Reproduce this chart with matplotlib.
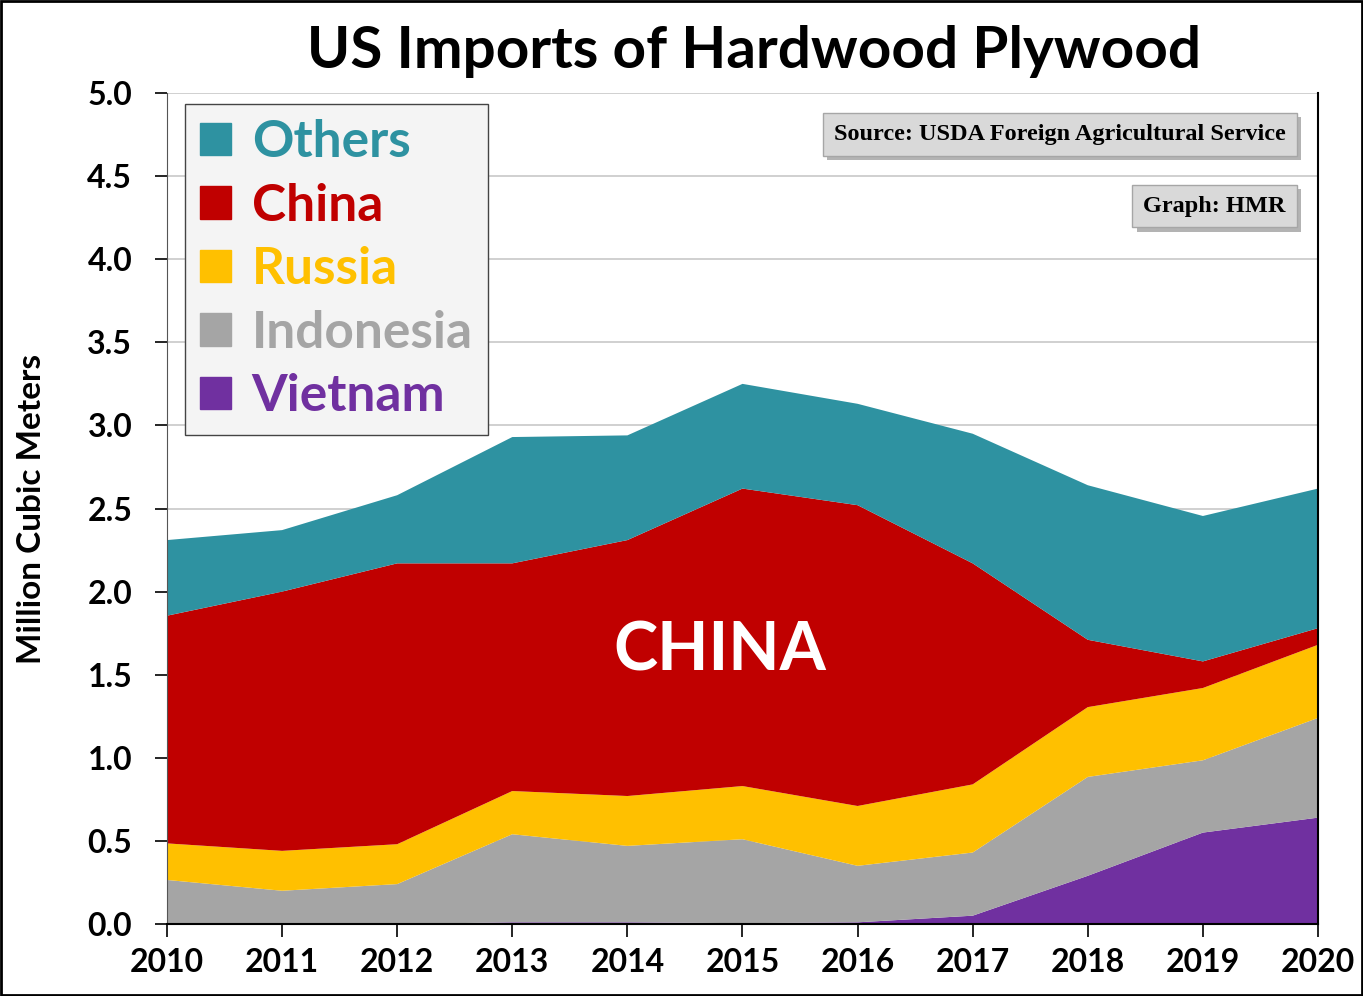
# US Imports of Hardwood Plywood - grafico de areas apiladas

import numpy as np
import matplotlib
matplotlib.use('Agg')
import matplotlib.pyplot as plt
import matplotlib.patheffects as pe
from matplotlib.patches import Patch, Rectangle

plt.rcParams['font.family'] = ['Lato', 'DejaVu Sans']

# Datos (millones de m3)
years = [2010, 2011, 2012, 2013, 2014, 2015, 2016, 2017, 2018, 2019, 2020]
vietnam = [0.0, 0.0, 0.0, 0.01, 0.01, 0.005, 0.01, 0.05, 0.29, 0.55, 0.64]
indonesia = [0.265, 0.20, 0.24, 0.53, 0.46, 0.505, 0.34, 0.38, 0.595, 0.435, 0.60]
russia = [0.22, 0.24, 0.24, 0.26, 0.30, 0.32, 0.36, 0.41, 0.42, 0.435, 0.44]
china = [1.37, 1.56, 1.69, 1.37, 1.54, 1.79, 1.81, 1.33, 0.405, 0.16, 0.10]
others = [0.455, 0.37, 0.41, 0.76, 0.63, 0.63, 0.61, 0.78, 0.93, 0.875, 0.84]

labels = ['Vietnam', 'Indonesia', 'Russia', 'China', 'Others']
colors = ['#7030A0', '#A5A5A5', '#FFC000', '#C00000', '#2E92A1']

fig = plt.figure(figsize=(13.63, 9.96), dpi=100)
ax = fig.add_axes([0.1225, 0.0723, 0.8445, 0.8343])

ax.stackplot(years, vietnam, indonesia, russia, china, others,
             colors=colors, linewidth=0, zorder=2)

# Ejes
ax.set_xlim(2010, 2020)
ax.set_ylim(0, 5)
ax.set_xticks(years)
ax.set_yticks(np.arange(0, 5.01, 0.5))
ax.set_yticklabels(['%.1f' % v for v in np.arange(0, 5.01, 0.5)])
ax.yaxis.grid(True, color='#C8C8C8', linewidth=1.2, zorder=0)
ax.set_axisbelow(True)
ax.tick_params(axis='both', labelsize=23, length=9, width=1.2, direction='out')
for lbl in ax.get_xticklabels() + ax.get_yticklabels():
    lbl.set_fontweight('bold')
ax.tick_params(axis='x', pad=8)
ax.tick_params(axis='y', pad=16)
ax.spines['top'].set_visible(False)
ax.spines['left'].set_color('#555555')
ax.spines['right'].set_color('black')
ax.spines['right'].set_linewidth(1.5)
ax.spines['bottom'].set_linewidth(1.5)

ax.set_ylabel('Million Cubic Meters', fontsize=24, fontweight='bold', labelpad=30)
fig.text(0.553, 0.948, 'US Imports of Hardwood Plywood', ha='center', va='center',
         fontsize=42, fontweight='bold')

# Etiqueta CHINA
ax.text(2014.8, 1.64, 'CHINA', color='white', fontsize=48, fontweight='bold',
        ha='center', va='center', zorder=5)

# Leyenda
handles = [Patch(facecolor=c, edgecolor=c) for c in colors[::-1]]
leg = ax.legend(handles, labels[::-1], loc='upper left',
                bbox_to_anchor=(0.0156, 0.987), borderaxespad=0,
                prop={'weight': 'bold', 'size': 37},
                labelcolor=colors[::-1], frameon=True, fancybox=False,
                handlelength=0.6, handleheight=0.6, handletextpad=0.4,
                labelspacing=0.32, borderpad=0.3)
leg.get_frame().set_facecolor('#F4F4F4')
leg.get_frame().set_edgecolor('#444444')
leg.get_frame().set_alpha(1)
leg.set_zorder(6)

# Cuadros de fuente
box = dict(boxstyle='square,pad=0.45', facecolor='#D9D9D9', edgecolor='#A6A6A6')
t1 = ax.text(0.972, 0.95, 'Source: USDA Foreign Agricultural Service',
             transform=ax.transAxes, ha='right', va='center', fontsize=17.5,
             fontweight='bold', family='Liberation Serif', bbox=box, zorder=7)
t2 = ax.text(0.972, 0.864, 'Graph: HMR', transform=ax.transAxes, ha='right',
             va='center', fontsize=17.5, fontweight='bold', family='Liberation Serif',
             bbox=box, zorder=7)
for t in (t1, t2):
    t.get_bbox_patch().set_path_effects([pe.SimplePatchShadow(offset=(3, -3), alpha=0.4),
                                         pe.Normal()])

# Borde de la figura
fig.patches.append(Rectangle((0.001, 0.001), 0.998, 0.998, transform=fig.transFigure,
                             fill=False, edgecolor='black', linewidth=2))

plt.savefig('out.png', dpi=100)
